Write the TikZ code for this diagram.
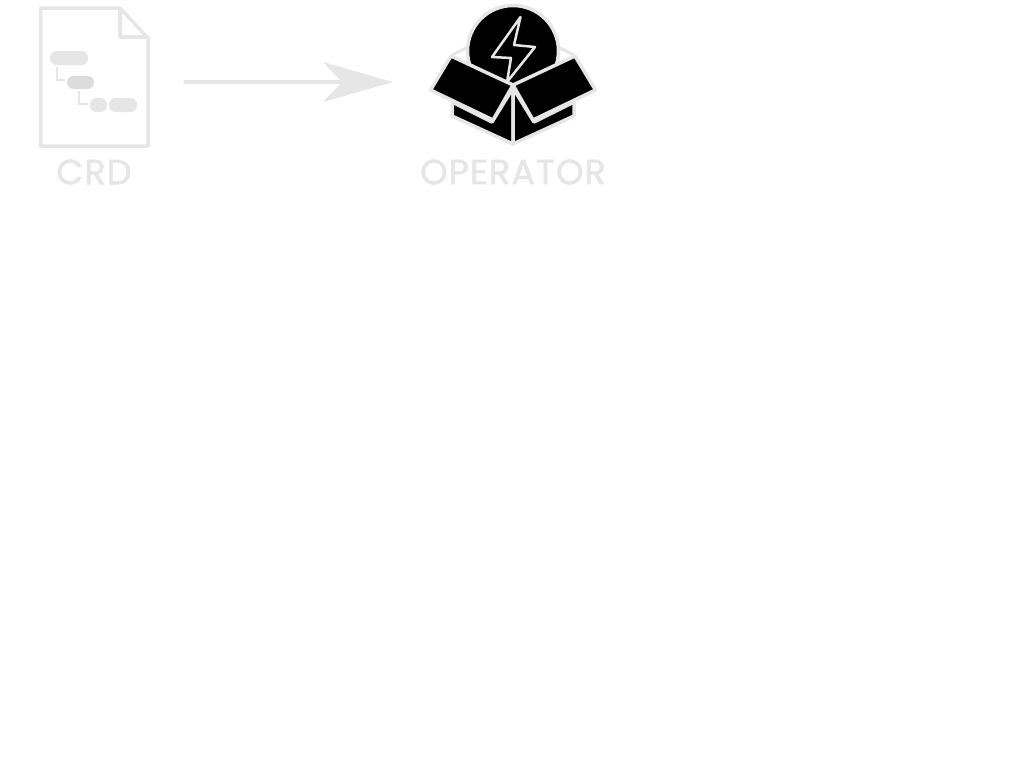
\documentclass[tikz,border=0pt]{standalone}
\usepackage{fontspec}
\newfontfamily\labelfont{Poppins}[FakeBold=1.5,LetterSpace=3]
\usetikzlibrary{positioning}
\usetikzlibrary{arrows.meta}
\definecolor{lightgrey}{HTML}{E6E6E6}
\definecolor{midgrey}{HTML}{DCDCDC}
\tikzset{icon/.style={inner sep=0pt, outer sep=0pt, minimum height=140pt}}
\tikzset{iconlabel/.style={inner sep=0pt, text=lightgrey, font=\labelfont\fontsize{35}{35}\selectfont}}
\tikzset{pill/.style={fill=lightgrey, rounded corners=6.5pt}}
\tikzset{sheet/.style={draw=lightgrey, line width=3.5pt, line join=round}}
\tikzset{tree/.style={draw=lightgrey, line width=1.2pt}}
\tikzset{boxface/.style={fill=black, draw=lightgrey, line width=3.5pt, line join=round}}
\tikzset{flow/.style={draw=lightgrey, line width=3.5pt, line cap=round, -{Stealth[length=70pt, width=40pt, inset=19pt]}}}

\begin{document}
\begin{tikzpicture}[x=1pt, y=-1pt]
    \useasboundingbox (0,0) rectangle (1024,763);

    \node[icon, minimum width=182pt]    (crd)       at (94,82)          {};
    \node[icon, minimum width=238pt]    (operator)  at (512,82)         {};
    \node[iconlabel]                    (crdlabel)  at (94,172)         {CRD};
    \node[iconlabel]                    (oplabel)   at (513,172)        {OPERATOR};

    \draw[sheet] (40.5,8) -- (120,8) -- (148,38) -- (148,146) -- (40.5,146) -- cycle;
    \draw[sheet] (120,8) -- (120,37) -- (148,37);
    \fill[pill] (50,51) rectangle (88,65);
    \fill[pill, fill=midgrey] (67,76) rectangle (94,89);
    \fill[pill] (90,98) rectangle (107,112);
    \fill[pill] (109,98) rectangle (137,112);
    \draw[tree] (57,67) -- (57,80) -- (65,80);
    \draw[tree] (79,91) -- (79,104) -- (88,104);

    \draw[lightgrey, line width=3pt] (452,55) -- (470,46);
    \draw[lightgrey, line width=3pt] (556,46) -- (574,55);
    \draw[boxface] (513,51) circle (45.5);
    \draw[boxface] (452,102) -- (492,122) -- (513,88) -- (513,144) -- (452,116) -- cycle;
    \draw[boxface] (574,102) -- (534,122) -- (513,88) -- (513,144) -- (574,116) -- cycle;
    \draw[boxface] (451,56) -- (513,85) -- (493,120) -- (430.5,90) -- cycle;
    \draw[boxface] (575,56) -- (513,85) -- (533,120) -- (595.5,90) -- cycle;
    \draw[boxface, line width=2.5pt] (520.5,17) -- (492,57) -- (511,58) -- (507,82) -- (535,47) -- (514,45) -- cycle;

    \draw[flow] (crd.east) -- (operator.west);
\end{tikzpicture}
\end{document}
